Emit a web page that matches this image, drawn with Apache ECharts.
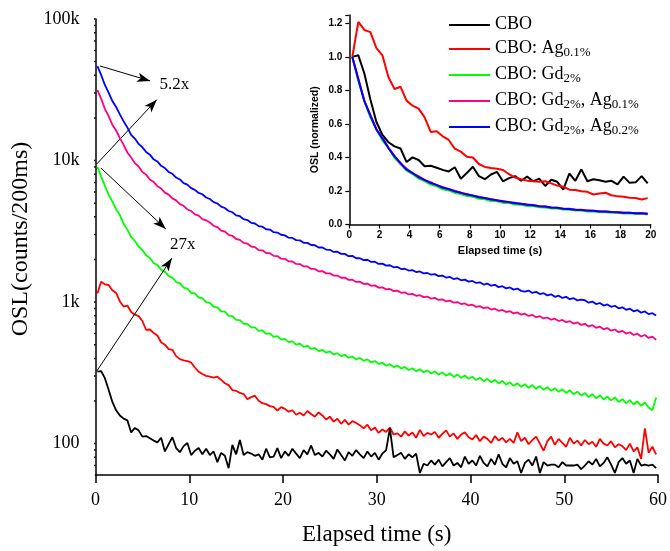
<!DOCTYPE html>
<html>
<head>
<meta charset="utf-8">
<script src="https://cdn.jsdelivr.net/npm/echarts@6/dist/echarts.min.js"></script>
<style>html,body{margin:0;padding:0;background:#fff;}#c{width:670px;height:551px;}</style>
</head>
<body>
<div id="c"></div>
<script>
// time (s), 0.4 s bins
const T = [
0.2,0.6,1.0,1.4,1.8,2.2,2.6,3.0,3.4,3.8,
4.2,4.6,5.0,5.4,5.8,6.2,6.6,7.0,7.4,7.8,
8.2,8.6,9.0,9.4,9.8,10.2,10.6,11.0,11.4,11.8,
12.2,12.6,13.0,13.4,13.8,14.2,14.6,15.0,15.4,15.8,
16.2,16.6,17.0,17.4,17.8,18.2,18.6,19.0,19.4,19.8,
20.2,20.6,21.0,21.4,21.8,22.2,22.6,23.0,23.4,23.8,
24.2,24.6,25.0,25.4,25.8,26.2,26.6,27.0,27.4,27.8,
28.2,28.6,29.0,29.4,29.8,30.2,30.6,31.0,31.4,31.8,
32.2,32.6,33.0,33.4,33.8,34.2,34.6,35.0,35.4,35.8,
36.2,36.6,37.0,37.4,37.8,38.2,38.6,39.0,39.4,39.8,
40.2,40.6,41.0,41.4,41.8,42.2,42.6,43.0,43.4,43.8,
44.2,44.6,45.0,45.4,45.8,46.2,46.6,47.0,47.4,47.8,
48.2,48.6,49.0,49.4,49.8,50.2,50.6,51.0,51.4,51.8,
52.2,52.6,53.0,53.4,53.8,54.2,54.6,55.0,55.4,55.8,
56.2,56.6,57.0,57.4,57.8,58.2,58.6,59.0,59.4,59.8];

const CBO = [
322,325,290,240,197,172,158,150,146,120,
129,124,112,113,109,105,102,110,88,99,
111,93,87,96,101,83,89,93,84,92,
83,88,74,86,82,67,98,84,106,83,
87,85,82,84,77,92,80,81,93,79,
88,82,92,85,79,90,84,97,83,86,
81,89,84,78,91,83,76,87,82,90,
84,79,88,81,86,77,85,90,128,80,
83,86,78,84,80,85,62,72,70,76,
71,77,69,74,79,70,73,68,81,72,
76,70,82,73,69,78,71,84,72,68,
79,72,75,62,73,77,70,81,62,74,
70,71,71,68,74,70,70,70,71,66,
70,75,71,78,69,73,80,71,62,74,
79,72,76,62,78,70,71,70,71,67];

const AG01 = [
1150,1390,1335,1320,1210,1160,1010,930,945,850,
815,795,735,635,640,605,580,520,500,465,
460,415,395,388,383,374,345,322,310,301,
297,293,297,282,267,259,239,236,228,224,
206,213,218,201,193,190,184,182,171,181,
176,168,172,160,165,158,170,162,155,166,
158,148,155,143,150,138,147,136,144,140,
135,128,136,124,130,119,126,121,130,116,
118,112,122,114,120,110,125,113,119,116,
121,110,117,124,112,118,108,116,120,111,
107,115,104,112,108,101,113,105,110,102,
108,101,120,104,110,99,106,112,100,89,
104,112,98,108,101,95,110,100,105,97,
106,99,103,95,108,100,97,104,94,99,
96,90,100,88,94,78,128,86,95,84];

const GD2 = [
9000,7700,6650,5740,5120,4510,4120,3570,3250,2890,
2700,2470,2330,2140,2050,1890,1830,1695,1640,1525,
1490,1385,1360,1265,1245,1160,1150,1075,1065,998,
988,925,918,860,855,800,796,748,746,702,
702,662,663,626,630,596,601,568,574,542,
550,521,528,500,509,483,491,466,474,450,
460,439,448,426,436,415,424,404,413,393,
403,385,394,374,383,365,373,355,364,347,
356,339,348,331,341,325,335,319,329,313,
324,308,319,302,314,296,308,291,303,287,
297,281,292,276,287,271,282,266,277,261,
271,256,267,252,263,248,259,244,255,240,
250,236,246,232,242,228,238,223,233,219,
228,213,224,209,219,205,215,202,212,197,
206,193,203,189,199,185,195,180,172,212];

const GD2AG01 = [
31500,27400,23200,20600,17900,16300,14400,12900,11400,10500,
9600,9080,8300,7950,7350,7060,6590,6340,5930,5740,
5400,5230,4920,4790,4510,4400,4160,4080,3860,3780,
3650,3450,3390,3200,3150,2980,2940,2790,2750,2620,
2590,2470,2445,2330,2320,2220,2215,2120,2115,2025,
2020,1940,1935,1860,1855,1785,1785,1715,1715,1650,
1655,1595,1595,1540,1540,1485,1490,1435,1440,1388,
1392,1345,1352,1302,1312,1265,1272,1230,1238,1195,
1205,1162,1172,1132,1143,1107,1118,1083,1094,1058,
1070,1035,1046,1012,1024,990,1000,968,978,946,
958,925,936,905,918,886,898,868,880,850,
862,832,845,815,828,798,811,782,795,766,
778,750,763,735,748,720,733,705,718,690,
702,673,686,658,670,643,655,628,640,613,
626,599,612,585,598,571,585,558,570,540];

const GD2AG02 = [
46500,40300,34200,30200,26300,23900,21200,18900,17100,15200,
14300,13100,12400,11500,11000,10200,9850,9180,8850,8300,
8060,7580,7350,6930,6750,6380,6210,5900,5780,5480,
5350,5080,4970,4720,4620,4400,4310,4100,4040,3850,
3800,3630,3590,3440,3410,3270,3250,3120,3100,2990,
2960,2850,2840,2740,2730,2620,2620,2530,2520,2430,
2430,2350,2340,2260,2270,2190,2190,2110,2120,2040,
2040,1980,1990,1920,1930,1860,1870,1810,1820,1760,
1770,1710,1720,1670,1680,1630,1645,1595,1605,1560,
1575,1525,1540,1490,1505,1455,1475,1425,1440,1395,
1410,1365,1380,1330,1350,1305,1325,1275,1295,1250,
1268,1225,1245,1200,1185,1205,1160,1180,1140,1155,
1115,1135,1090,1110,1070,1088,1048,1065,1028,1040,
1030,990,1008,968,985,945,962,925,942,903,
918,882,898,860,878,842,858,822,835,805];

const NAMES = ['CBO', 'CBO: Ag0.1%', 'CBO: Gd2%', 'CBO: Gd2%, Ag0.1%', 'CBO: Gd2%, Ag0.2%'];
const LEGEND_RICH = [
  '{n|CBO}',
  '{n|CBO: Ag}{s|0.1%}',
  '{n|CBO: Gd}{s|2%}',
  '{n|CBO: Gd}{s|2%}{n|, Ag}{s|0.1%}',
  '{n|CBO: Gd}{s|2%}{n|, Ag}{s|0.2%}'
];
const COLORS = ['#000000', '#ff0000', '#00ff00', '#ff0080', '#0000ff'];
const SERIES = [CBO, AG01, GD2, GD2AG01, GD2AG02];

// main y axis ticks
const Y_MAJOR = [100, 1000, 10000, 100000];
const Y_MAJOR_LABELS = ['100', '1k', '10k', '100k'];
const Y_MINOR = [70, 80, 90, 200, 300, 400, 500, 600, 700, 800, 900,
  2000, 3000, 4000, 5000, 6000, 7000, 8000, 9000,
  20000, 30000, 40000, 50000, 60000, 70000, 80000, 90000];

// annotations (data coordinates)
const ARROW_FROM = [[0.48, 46560], [0.13, 9447], [0.58, 8851], [0.13, 325]];
const ARROW_TO = [[5.83, 36520], [6.54, 26900], [7.5, 3285], [8.15, 2043]];
const NOTES = [{ text: '5.2x', at: [6.76, 34170] }, { text: '27x', at: [7.9, 2540] }];

const INSET_T_MAX = 20;

const SERIF = 'Liberation Serif';
const SANS = 'Liberation Sans';

const MAIN_GRID = { left: 95.5, top: 19, width: 566, height: 456 };
const X_MIN = 0, X_MAX = 60;
const TICK_MAJOR_PX = 8, TICK_MINOR_PX = 5;

const chart = echarts.init(document.getElementById('c'), null, { renderer: 'canvas' });

const series = [];
SERIES.forEach((arr, i) => {
  const s = {
    name: NAMES[i], type: 'line', xAxisIndex: 0, yAxisIndex: 0,
    symbol: 'none', showSymbol: false, animation: false,
    lineStyle: { color: COLORS[i], width: 1.8 }, itemStyle: { color: COLORS[i] },
    data: T.map((t, k) => [t, arr[k]]), z: 2 + i
  };
  if (i === 0) {
    s.markLine = {
      silent: true, animation: false, symbol: ['none', 'arrow'], symbolSize: [7, 13],
      lineStyle: { color: '#000', width: 1, type: 'solid' }, label: { show: false },
      emphasis: { disabled: true },
      data: ARROW_FROM.map((a, k) => [{ coord: a }, { coord: ARROW_TO[k] }])
    };
    s.markPoint = {
      silent: true, animation: false, symbol: 'circle', symbolSize: 1,
      itemStyle: { color: 'rgba(0,0,0,0)' },
      label: { show: true, position: 'right', distance: 0, color: '#000', fontFamily: SERIF, fontSize: 17,
        formatter: p => p.name },
      data: NOTES.map(n => ({ name: n.text, coord: n.at }))
    };
    s.z = 10;
  }
  series.push(s);
});
// inset series (normalized)
SERIES.forEach((arr, i) => {
  const d = [];
  T.forEach((t, k) => { if (t <= INSET_T_MAX) d.push([t, arr[k] / arr[0]]); });
  series.push({
    name: NAMES[i], type: 'line', xAxisIndex: 1, yAxisIndex: 1,
    symbol: 'none', showSymbol: false, animation: false,
    lineStyle: { color: COLORS[i], width: 2 }, itemStyle: { color: COLORS[i] },
    data: d, z: 2 + i
  });
});
// y-axis ticks of the main log axis, drawn outward through the axis scale
const pxToX = (X_MAX - X_MIN) / MAIN_GRID.width;
const tickData = [];
Y_MAJOR.concat(Y_MINOR).forEach(v => {
  const len = (Y_MAJOR.indexOf(v) >= 0 ? TICK_MAJOR_PX : TICK_MINOR_PX) * pxToX;
  tickData.push([X_MIN - len, v], [X_MIN, v], ['-', '-']);
});
series.push({
  type: 'line', xAxisIndex: 0, yAxisIndex: 0, silent: true, clip: false, animation: false, z: 20,
  symbol: 'none', showSymbol: false, connectNulls: false,
  lineStyle: { color: '#000', width: 1.5 },
  data: tickData
});

const option = {
  backgroundColor: '#fff',
  animation: false,
  grid: [
    MAIN_GRID,
    { left: 349.3, top: 15, width: 301.4, height: 209.5 }
  ],
  legend: {
    data: NAMES, orient: 'vertical', left: 449, top: 15, padding: 0,
    icon: 'rect', itemWidth: 41, itemHeight: 2, itemGap: 3,
    selectedMode: false,
    formatter: n => LEGEND_RICH[NAMES.indexOf(n)],
    textStyle: {
      color: '#000',
      rich: {
        n: { fontFamily: SERIF, fontSize: 18, color: '#000', lineHeight: 20, verticalAlign: 'top' },
        s: { fontFamily: SERIF, fontSize: 13, color: '#000', lineHeight: 13, padding: [10, 0, 0, 0], verticalAlign: 'bottom' }
      }
    }
  },
  xAxis: [
    {
      gridIndex: 0, type: 'value', min: X_MIN, max: X_MAX, interval: 10,
      name: 'Elapsed time (s)', nameLocation: 'middle', nameGap: 48,
      nameTextStyle: { fontFamily: SERIF, fontSize: 23, color: '#000' },
      axisLine: { lineStyle: { color: '#000', width: 1.5 } },
      axisTick: { inside: false, length: 8, lineStyle: { color: '#000', width: 1.5 } },
      axisLabel: { fontFamily: SERIF, fontSize: 18, color: '#000', margin: 16 },
      splitLine: { show: false }
    },
    {
      gridIndex: 1, type: 'value', min: 0, max: 20, interval: 2,
      name: 'Elapsed time (s)', nameLocation: 'middle', nameGap: 21,
      nameTextStyle: { fontFamily: SANS, fontWeight: 'bold', fontSize: 11, color: '#000' },
      axisLine: { lineStyle: { color: '#000', width: 1.5 } },
      axisTick: { inside: false, length: 4, lineStyle: { color: '#000', width: 1.2 } },
      axisLabel: { fontFamily: SANS, fontWeight: 'bold', fontSize: 10, color: '#000', margin: 6 },
      splitLine: { show: false }
    }
  ],
  yAxis: [
    {
      gridIndex: 0, type: 'log', logBase: 10, min: 60, max: 100000,
      name: 'OSL(counts/200ms)', nameLocation: 'middle', nameGap: 50,
      nameTextStyle: { fontFamily: SERIF, fontSize: 24, color: '#000', padding: [0, 0, 0, 16] },
      axisLine: { lineStyle: { color: '#000', width: 1.5 } },
      axisTick: { show: false },
      axisLabel: {
        fontFamily: SERIF, fontSize: 18, color: '#000', margin: 16,
        formatter: v => { const k = Y_MAJOR.indexOf(Math.round(v)); return k >= 0 ? Y_MAJOR_LABELS[k] : ''; }
      },
      splitLine: { show: false }, minorTick: { show: false }
    },
    {
      gridIndex: 1, type: 'value', min: 0, max: 1.25, interval: 0.2,
      name: 'OSL (normalized)', nameLocation: 'middle', nameGap: 29,
      nameTextStyle: { fontFamily: SANS, fontWeight: 'bold', fontSize: 10.5, color: '#000', padding: [0, 20, 0, 0] },
      axisLine: { lineStyle: { color: '#000', width: 1.5 } },
      axisTick: { inside: false, length: 4, lineStyle: { color: '#000', width: 1.2 } },
      axisLabel: {
        fontFamily: SANS, fontWeight: 'bold', fontSize: 10, color: '#000', margin: 7,
        formatter: v => (v > 1.21 ? '' : v.toFixed(1))
      },
      splitLine: { show: false }
    }
  ],
  series: series
};
chart.setOption(option);
</script>
</body>
</html>
